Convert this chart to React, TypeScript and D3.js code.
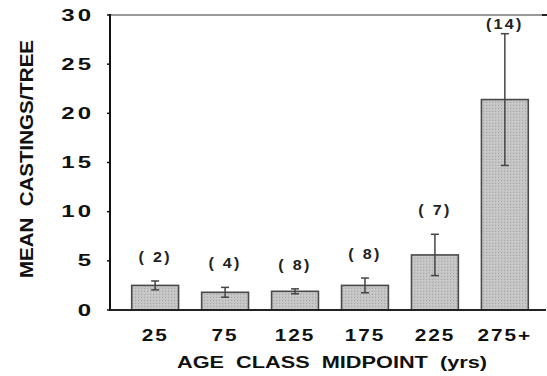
import React from 'react';
import * as d3 from 'd3';

const categories = ['25', '75', '125', '175', '225', '275+'];
const means = [2.5, 1.8, 1.9, 2.5, 5.6, 21.4];
const errors = [0.45, 0.5, 0.25, 0.75, 2.1, 6.7];
const counts = ['( 2)', '( 4)', '( 8)', '( 8)', '( 7)', '(14)'];
const yTicks = [0, 5, 10, 15, 20, 25, 30];

const W = 547;
const H = 376;
const left = 110;
const right = 545;
const top = 15;
const bottom = 310;

export default function App() {
  const x = d3
    .scaleBand<string>()
    .domain(categories)
    .range([118, 542])
    .paddingInner(0.33)
    .paddingOuter(0.196);
  const y = d3.scaleLinear().domain([0, 30]).range([bottom, top]);
  const bw = x.bandwidth();
  const font = "'Liberation Sans', Arial, sans-serif";

  return (
    <svg
      width={W}
      height={H}
      style={{ position: 'absolute', left: 0, top: 0, background: '#fff' }}
    >
      <defs>
        <pattern id="stip" width="3" height="3" patternUnits="userSpaceOnUse">
          <rect width="3" height="3" fill="#c4c4c4" />
          <rect x="0" y="0" width="1" height="1" fill="#a8a8a8" />
          <rect x="2" y="1" width="1" height="1" fill="#d2d2d2" />
        </pattern>
      </defs>

      {/* top border */}
      <line x1={left} x2={W} y1={top} y2={top} stroke="#9a9a9a" strokeWidth={2} />
      <line x1={right - 3} x2={W} y1={top} y2={top} stroke="#222" strokeWidth={2} />

      {/* bars */}
      {means.map((m, i) => {
        const cx = (x(categories[i]) as number) + bw / 2;
        return (
          <g key={i}>
            <rect
              x={x(categories[i])}
              y={y(m)}
              width={bw}
              height={bottom - y(m)}
              fill="url(#stip)"
              stroke="#4a4a4a"
              strokeWidth={1.6}
            />
            <line x1={cx} x2={cx} y1={y(m + errors[i])} y2={y(m - errors[i])} stroke="#444" strokeWidth={1.5} />
            <line x1={cx - 4} x2={cx + 4} y1={y(m + errors[i])} y2={y(m + errors[i])} stroke="#444" strokeWidth={1.5} />
            <line x1={cx - 4} x2={cx + 4} y1={y(m - errors[i])} y2={y(m - errors[i])} stroke="#444" strokeWidth={1.5} />
            <text
              transform={`translate(${cx},${Math.max(24, y(m + errors[i]) - 24) + 5}) scale(1.15,1)`}
              textAnchor="middle"
              fontFamily={font}
              fontWeight="bold"
              fontSize={14}
              letterSpacing={2}
              fill="#222"
              style={{ whiteSpace: 'pre' }}
            >
              {counts[i]}
            </text>
            <text
              transform={`translate(${cx},${341}) scale(1.3,1)`}
              textAnchor="middle"
              fontFamily={font}
              fontWeight="bold"
              fontSize={16}
              letterSpacing={1.5}
              fill="#111"
            >
              {categories[i]}
            </text>
          </g>
        );
      })}

      {/* axes */}
      <line x1={left} x2={left} y1={top - 1} y2={bottom + 1} stroke="#111" strokeWidth={2} />
      <line x1={left} x2={right} y1={bottom} y2={bottom} stroke="#222" strokeWidth={2} />
      <line x1={right} x2={right} y1={bottom - 1} y2={bottom + 1} stroke="#222" strokeWidth={2} />
      {yTicks.map((t) => (
        <g key={t}>
          <line x1={left - 3} x2={left} y1={y(t)} y2={y(t)} stroke="#111" strokeWidth={1.5} />
          <text
            transform={`translate(${94},${y(t) + 5.5}) scale(1.5,1)`}
            textAnchor="end"
            fontFamily={font}
            fontWeight="bold"
            fontSize={16}
            letterSpacing={2}
            fill="#111"
          >
            {t}
          </text>
        </g>
      ))}

      {/* axis titles */}
      <text
        x={332}
        y={368}
        textAnchor="middle"
        fontFamily={font}
        fontWeight="bold"
        fontSize={17}
        textLength={310}
        lengthAdjust="spacingAndGlyphs"
        fill="#111"
        style={{ whiteSpace: 'pre' }}
      >
        {'AGE  CLASS  MIDPOINT  (yrs)'}
      </text>
      <text
        transform={`translate(${33},${159}) rotate(-90)`}
        textAnchor="middle"
        fontFamily={font}
        fontWeight="bold"
        fontSize={19}
        textLength={238}
        lengthAdjust="spacingAndGlyphs"
        fill="#111"
        style={{ whiteSpace: 'pre' }}
      >
        {'MEAN  CASTINGS/TREE'}
      </text>
    </svg>
  );
}
